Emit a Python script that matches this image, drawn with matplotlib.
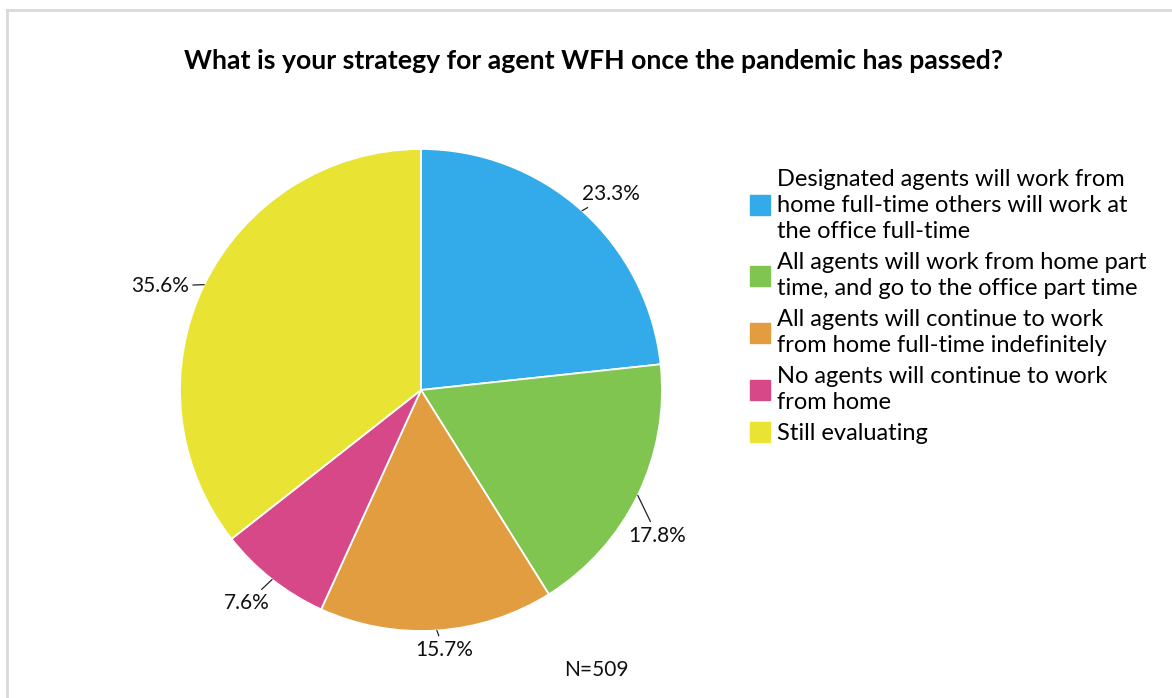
import numpy as np
import matplotlib.pyplot as plt
from matplotlib.lines import Line2D

plt.rcParams['font.family'] = ['Lato', 'DejaVu Sans']

# Survey answers, share of respondents (%)
answers = [
    "Designated agents will work from\nhome full-time others will work at\nthe office full-time",
    "All agents will work from home part\ntime, and go to the office part time",
    "All agents will continue to work\nfrom home full-time indefinitely",
    "No agents will continue to work\nfrom home",
    "Still evaluating",
]
shares = [23.3, 17.8, 15.7, 7.6, 35.6]
colors = ["#33abea", "#80c550", "#e29d40", "#d64887", "#e9e433"]
n_responses = 509

# label offsets from the slice edge, in points
label_offsets = [(21, 12), (14, -29), (5, -14), (-18, -17), (-32, -1)]

W, H = 1172, 698
fig = plt.figure(figsize=(W / 100, H / 100), dpi=100)

# pie axes: centre (421, 390) px, radius 241 px
cx, cy, r = 421, 390, 241
ax = fig.add_axes([(cx - r) / W, (H - cy - r) / H, 2 * r / W, 2 * r / H])
wedges, _ = ax.pie(shares, colors=colors, startangle=90, counterclock=False,
                   radius=1.0, wedgeprops=dict(edgecolor="white", linewidth=1.3))
ax.set_xlim(-1, 1)
ax.set_ylim(-1, 1)
ax.set_aspect("equal")
ax.axis("off")

for w, val, off in zip(wedges, shares, label_offsets):
    mid = np.deg2rad((w.theta1 + w.theta2) / 2)
    x, y = np.cos(mid), np.sin(mid)
    ax.annotate(f"{val:.1f}%", xy=(x, y), xytext=off, textcoords="offset points",
                ha="center", va="center", fontsize=15, color="#111111",
                annotation_clip=False,
                arrowprops=dict(arrowstyle="-", color="#222222", lw=0.9,
                                shrinkA=1, shrinkB=0))

fig.text(594 / W, 1 - 61 / H,
         "What is your strategy for agent WFH once the pandemic has passed?",
         ha="center", va="center", fontsize=19.2, fontweight="bold", color="#000000")

fig.text(596 / W, 1 - 670 / H, f"N={n_responses}", ha="center", va="center",
         fontsize=15, color="#111111")

handles = [Line2D([], [], marker="s", linestyle="none", markersize=15,
                  markerfacecolor=c, markeredgecolor=c) for c in colors]
leg = fig.legend(handles, answers, loc="upper left",
                 bbox_to_anchor=(750 / W, 1 - 169 / H), frameon=False,
                 handlelength=0.85, handletextpad=0.3,
                 labelspacing=0.44, borderpad=0, borderaxespad=0,
                 prop=dict(size=17))
for t in leg.get_texts():
    t.set_linespacing(1.28)

# light grey frame along the top and left edges
fig.add_artist(Line2D([7 / W, 7 / W], [0, 1 - 10 / H], transform=fig.transFigure,
                      color="#d9d9d9", lw=2))
fig.add_artist(Line2D([7 / W, 1], [1 - 10 / H, 1 - 10 / H], transform=fig.transFigure,
                      color="#d9d9d9", lw=2))

fig.savefig("out.png", dpi=100, facecolor="white")
